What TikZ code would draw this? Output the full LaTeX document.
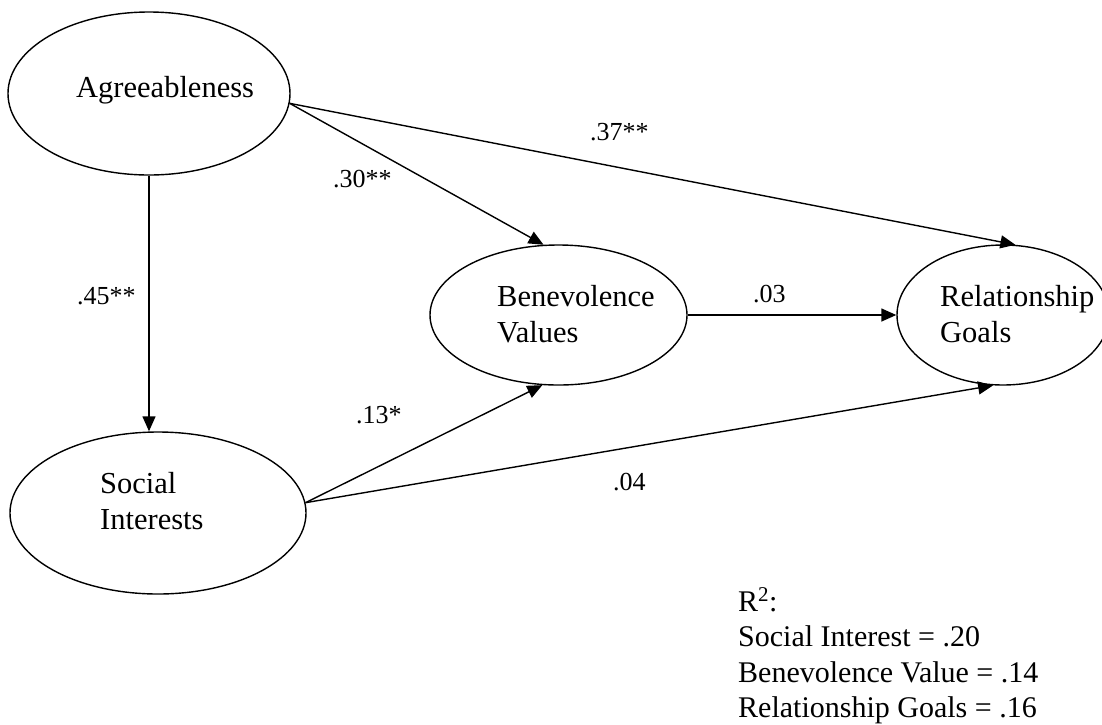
\documentclass[tikz,border=0pt]{standalone}
\usepackage{fontspec}
\setmainfont{Liberation Serif}
\usetikzlibrary{arrows.meta,shapes.geometric}
\begin{document}
\begin{tikzpicture}[x=1pt,y=-1pt,
  latent/.style 2 args={draw, ellipse, line width=1.4pt, inner sep=0pt,
    minimum width=#1, minimum height=#2},
  effect/.style={line width=1.4pt, -{Triangle[length=15pt,width=13pt]}},
  vartext/.style={anchor=base west, inner sep=0pt, font=\fontsize{30.5}{36}\selectfont},
  coef/.style={anchor=base west, inner sep=0pt, font=\fontsize{26}{31}\selectfont},
  rsq/.style={anchor=base west, inner sep=0pt, font=\fontsize{30}{35}\selectfont}]
\useasboundingbox (0,0) rectangle (1102,724);

% latent variables
\node[latent={282pt}{163pt}] (agree)  at (149,93.5) {};
\node[latent={296pt}{162pt}] (social) at (158,513) {};
\node[latent={257pt}{140pt}] (benev)  at (558.5,315) {};
\node[latent={212pt}{140pt}] (rel)    at (1003,315) {};

% variable names
\node[vartext] (agreeT) at (76,97) {Agreeableness};
\node[vartext] (benevT1) at (497,306) {Benevolence};
\node[vartext] (benevT2) at (497,342) {Values};
\node[vartext] (relT1) at (940,306) {Relationship};
\node[vartext] (relT2) at (940,342) {Goals};
\node[vartext] (socialT1) at (100,493) {Social};
\node[vartext] (socialT2) at (100,529) {Interests};

% structural paths
\draw[effect] (agree.south) -- (agree.south |- social.north);
\draw[effect] (agree.-4.7) -- (benev.102);
\draw[effect] (agree.-4.7) -- (rel.80);
\draw[effect] (benev.east) -- (rel.west);
\draw[effect] (social.4) -- (benev.-103);
\draw[effect] (social.4) -- (rel.-98);

% path coefficients
\node[coef] (c37) at (590,140) {.37**};
\node[coef] (c30) at (333,187) {.30**};
\node[coef] (c45) at (77,304) {.45**};
\node[coef] (c03) at (753,302) {.03};
\node[coef] (c13) at (356,423) {.13*};
\node[coef] (c04) at (613,490) {.04};

% explained variance
\node[rsq] (r0) at (738,611) {R\textsuperscript{2}:};
\node[rsq] (r1) at (738,646) {Social Interest = .20};
\node[rsq] (r2) at (738,682) {Benevolence Value = .14};
\node[rsq] (r3) at (738,717) {Relationship Goals = .16};
\end{tikzpicture}
\end{document}
